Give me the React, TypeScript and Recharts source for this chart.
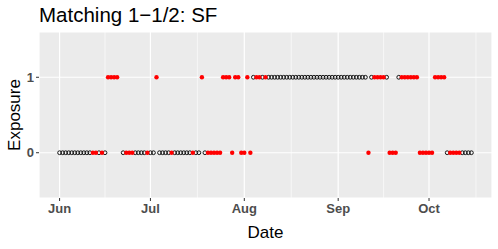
import { ScatterChart, Scatter, XAxis, YAxis, CartesianGrid, ReferenceLine } from "recharts";

// one entry per day starting Jun 1 (null = no observation)
const exposure: (number | null)[] = [
  0, 0, 0, 0, 0, 0, 0, 0, 0, 0,
  0, 0, 0, 0, 0, 0, 1, 1, 1, 1,
  null, 0, 0, 0, 0, 0, 0, 0, 0, 0,
  0, 0, 1, 0, 0, 0, 0, 0, 0, 0,
  0, 0, 0, 0, 0, 0, 0, 1, 0, 0,
  0, 0, 0, 0, 1, 1, 1, 0, 1, 1,
  0, 0, 1, 0, 1, 1, 1, 1, 1, 1,
  1, 1, 1, 1, 1, 1, 1, 1, 1, 1,
  1, 1, 1, 1, 1, 1, 1, 1, 1, 1,
  1, 1, 1, 1, 1, 1, 1, 1, 1, 1,
  1, 1, 0, 1, 1, 1, 1, 1, 1, 0,
  0, 0, 1, 1, 1, 1, 1, 1, 1, 0,
  0, 0, 0, 0, 1, 1, 1, 1, 0, 0,
  0, 0, 0, 0, 0, 0, 0,
];

// 1 = mismatch (red), 0 = match (open black)
const flagged: number[] = [
  0, 0, 0, 0, 0, 0, 0, 0, 0, 0,
  0, 1, 1, 0, 1, 0, 1, 1, 1, 1,
  0, 0, 1, 1, 1, 0, 0, 0, 0, 1,
  0, 0, 1, 0, 0, 0, 0, 1, 0, 0,
  0, 0, 0, 0, 1, 0, 0, 1, 0, 1,
  1, 1, 1, 1, 1, 1, 1, 1, 1, 1,
  1, 1, 1, 1, 0, 1, 1, 0, 1, 0,
  0, 0, 0, 0, 0, 0, 0, 0, 0, 0,
  0, 0, 0, 0, 0, 0, 0, 0, 0, 0,
  0, 0, 0, 0, 0, 0, 0, 0, 0, 0,
  0, 0, 1, 0, 1, 1, 1, 1, 0, 1,
  1, 1, 0, 1, 1, 1, 1, 1, 1, 1,
  1, 1, 1, 1, 1, 1, 1, 1, 0, 1,
  1, 1, 1, 0, 0, 0, 0,
];

const monthTicks = [0, 30, 61, 92, 122];
const monthLabels = ["Jun", "Jul", "Aug", "Sep", "Oct"];
const minorTicks = [15, 45.5, 76.5, 107, 137.5];
const yTicks = [0, 1];

const points = exposure
  .map((v, i) => ({ day: i, exposure: v, flagged: flagged[i] }))
  .filter((p) => p.exposure !== null);
const matched = points.filter((p) => p.flagged === 0);
const mismatched = points.filter((p) => p.flagged === 1);

const tickStyle = { fill: "#4D4D4D", fontSize: 13, fontWeight: 700, fontFamily: "Liberation Sans, Arial, sans-serif" };

const OpenDot = (props: any) => (
  <circle cx={props.cx} cy={props.cy} r={1.9} fill="none" stroke="#000" strokeWidth={0.9} />
);
const RedDot = (props: any) => <circle cx={props.cx} cy={props.cy} r={2.2} fill="#FF0000" />;

export default function App() {
  return (
    <div style={{ position: "absolute", left: 0, top: 0, width: 498, height: 249, background: "#fff" }}>
      <ScatterChart width={498} height={249} margin={{ top: 32, right: 6, left: 0, bottom: 0 }}>
        <CartesianGrid fill="#EBEBEB" stroke="#FFFFFF" strokeWidth={1.2} />
        {minorTicks.map((t) => (
          <ReferenceLine key={t} x={t} stroke="#FFFFFF" strokeWidth={0.6} />
        ))}
        <XAxis
          type="number"
          dataKey="day"
          domain={[-6.8, 142.8]}
          ticks={monthTicks}
          tickFormatter={(v) => monthLabels[monthTicks.indexOf(v)] ?? ""}
          allowDataOverflow
          axisLine={false}
          tickLine={{ stroke: "#333333" }}
          tickSize={3}
          tickMargin={3}
          height={51}
          tick={tickStyle}
        />
        <YAxis
          type="number"
          dataKey="exposure"
          domain={[-0.6, 1.6]}
          ticks={yTicks}
          allowDataOverflow
          axisLine={false}
          tickLine={{ stroke: "#333333" }}
          tickSize={3}
          tickMargin={2}
          width={39}
          tick={tickStyle}
        />
        <Scatter data={matched} shape={OpenDot} isAnimationActive={false} />
        <Scatter data={mismatched} shape={RedDot} isAnimationActive={false} />
      </ScatterChart>
      <svg
        width={498}
        height={249}
        style={{ position: "absolute", left: 0, top: 0, pointerEvents: "none" }}
        fontFamily="Liberation Sans, Arial, sans-serif"
      >
        <text x={39} y={22} fontSize={20.5} fill="#000">Matching 1−1/2: SF</text>
        <text x={265.5} y={238} fontSize={17} textAnchor="middle" fill="#000">Date</text>
        <text x={20} y={115} fontSize={17} textAnchor="middle" fill="#000" transform="rotate(-90 20 115)">
          Exposure
        </text>
      </svg>
    </div>
  );
}
